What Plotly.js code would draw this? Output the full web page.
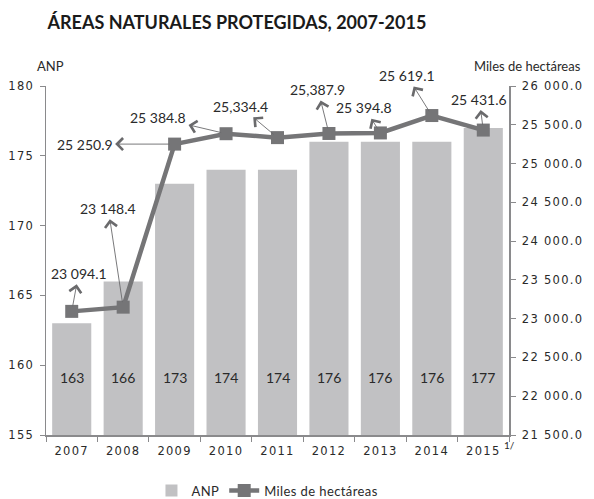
<!DOCTYPE html>
<html>
<head>
<meta charset="utf-8">
<script src="https://cdn.plot.ly/plotly-3.0.1.min.js"></script>
<style>
html,body{margin:0;padding:0;background:#fff}
#chart{width:594px;height:499px}
.xtick text, .ytick text, .y2tick text{letter-spacing:1.3px}
.legendtext{letter-spacing:0.4px}
</style>
</head>
<body>
<div id="chart"></div>
<script>
const years = ['2007','2008','2009','2010','2011','2012','2013','2014','2015'];
const anp = [163,166,173,174,174,176,176,176,177];
const hectareas = [23094.1,23148.4,25250.9,25384.8,25334.4,25387.9,25394.8,25619.1,25431.6];
const pointLabels = ['23 094.1','23 148.4','25 250.9','25 384.8','25,334.4','25,387.9','25 394.8','25 619.1','25 431.6'];
const labelOffsets = [[7,-38],[-15,-99],[-90,0],[-68,-16],[-37,-31],[-11,-44],[-16,-25],[-25,-40],[-4,-31]];

const FONT = 'Lato, "DejaVu Sans", sans-serif';
const TICKFONT = '"DejaVu Sans", sans-serif';
const TXT = '#2a2a2a';
const AXC = '#8a8a8c';

const traces = [
  {type:'bar', x:years, y:anp, name:'ANP', marker:{color:'#c1c1c3'}, yaxis:'y', hoverinfo:'none'},
  {type:'scatter', mode:'lines+markers', x:years, y:hectareas, name:'Miles de hectáreas', yaxis:'y2',
   line:{color:'#757577', width:4.5}, marker:{symbol:'square', size:13, color:'#757577'}, hoverinfo:'none'}
];

const annotations = [];
years.forEach((yr,i)=>{
  annotations.push({x:i, y:159.1, xref:'x', yref:'y', text:String(anp[i]), showarrow:false,
    font:{family:FONT, size:14, color:TXT}});
  annotations.push({x:i, y:hectareas[i], xref:'x', yref:'y2', text:pointLabels[i], showarrow:true,
    ax:labelOffsets[i][0], ay:labelOffsets[i][1], arrowside:'start', startarrowhead:4, startarrowsize:2.6,
    arrowwidth:0.9, arrowcolor:'#6a6a6c', standoff:5, startstandoff:1,
    font:{family:FONT, size:14, color:TXT}});
});
annotations.push({xref:'paper', yref:'paper', x:0.01, y:1.03, xanchor:'center', yanchor:'bottom', text:'ANP', showarrow:false,
  font:{family:FONT, size:13, color:TXT}});
annotations.push({xref:'paper', yref:'paper', x:1.04, y:1.03, xanchor:'center', yanchor:'bottom', text:'Miles de hectáreas', showarrow:false,
  font:{family:FONT, size:13, color:TXT}});
annotations.push({xref:'paper', yref:'paper', x:0.985, y:-0.005, xanchor:'left', yanchor:'top', text:'1/', showarrow:false,
  font:{family:FONT, size:10, color:TXT}});

const layout = {
  width:594, height:499,
  margin:{l:46, r:85, t:86, b:64},
  paper_bgcolor:'#fff', plot_bgcolor:'#fff',
  font:{family:FONT, size:13, color:TXT},
  separators:'. ',
  title:{text:'<b>ÁREAS NATURALES PROTEGIDAS, 2007-2015</b>', x:0.08, xanchor:'left', y:0.955, yanchor:'middle',
    font:{family:FONT, size:18, color:'#1a1a1a'}},
  bargap:0.24,
  showlegend:true,
  legend:{orientation:'h', xref:'container', yref:'container', x:0.255, xanchor:'left', y:0.017, yanchor:'middle',
    font:{family:FONT, size:13, color:TXT}},
  xaxis:{type:'category', range:[-0.5,8.5], autorange:false, showline:true, linecolor:AXC, linewidth:1.5, ticks:'outside', tickson:'boundaries',
    ticklen:5, tickcolor:AXC, showgrid:false, ticklabelstandoff:5, tickfont:{family:TICKFONT, size:11.5, color:TXT}},
  yaxis:{range:[155,180], autorange:false, dtick:5, showline:true, linecolor:AXC, linewidth:1.5, ticks:'outside', ticklen:5,
    tickcolor:AXC, showgrid:false, zeroline:false, ticklabelstandoff:3, tickfont:{family:TICKFONT, size:11.5, color:TXT}},
  yaxis2:{overlaying:'y', side:'right', range:[21500,26000], autorange:false, dtick:500, tickformat:',.1f', showline:true,
    linecolor:AXC, linewidth:1.5, ticks:'outside', ticklen:5, tickcolor:AXC, showgrid:false, zeroline:false,
    ticklabelstandoff:4, tickfont:{family:TICKFONT, size:11.5, color:TXT}},
  annotations:annotations
};

Plotly.newPlot('chart', traces, layout, {staticPlot:true, displayModeBar:false});
</script>
</body>
</html>
